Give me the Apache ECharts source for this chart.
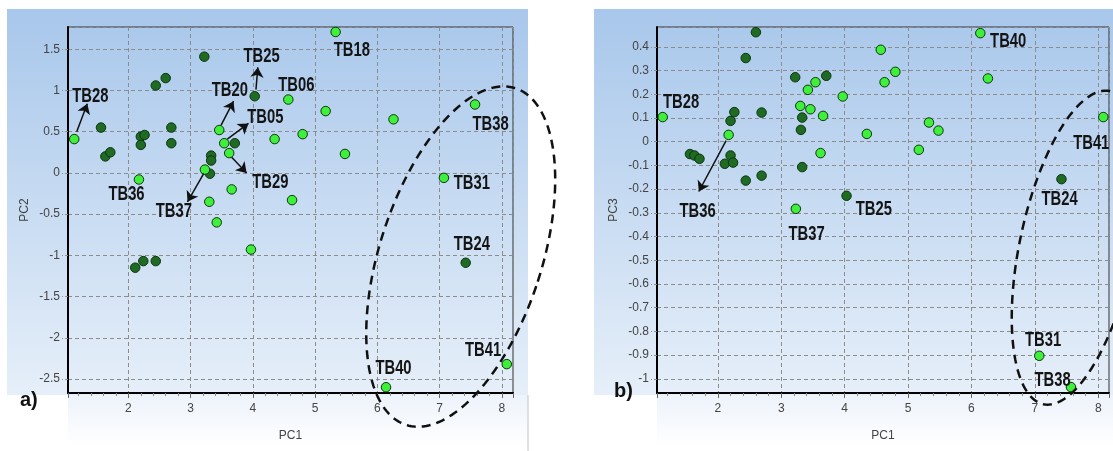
<!DOCTYPE html>
<html><head><meta charset="utf-8">
<script src="https://cdn.jsdelivr.net/npm/echarts@6/dist/echarts.min.js"></script>
<style>html,body{margin:0;padding:0;background:#fff}#c{width:1113px;height:451px}</style>
</head><body><div id="c"></div>
<script>
// ---- data ----
const samples = ['TB28','s02','s03','s04','s05','TB36','s07','s08','s09','s10','s11','s12','s13','s14','s15','s16','TB37','s18','s19','s20','s21','s22','TB20','TB05','TB29','s26','s27','s28','TB25','s30','TB06','s32','s33','s34','TB18','s36','TB40','s38','TB31','TB24','TB38','TB41'];
const pc1 = [1.13,1.56,1.63,1.71,2.11,2.17,2.20,2.20,2.24,2.26,2.44,2.44,2.60,2.69,2.69,3.22,3.23,3.30,3.31,3.33,3.33,3.42,3.46,3.54,3.62,3.66,3.71,3.97,4.03,4.35,4.57,4.63,4.80,5.17,5.33,5.48,6.14,6.26,7.07,7.42,7.57,8.08];
const pc2 = [0.41,0.55,0.20,0.25,-1.15,-0.08,0.44,0.34,-1.07,0.46,1.06,-1.07,1.15,0.55,0.36,1.41,0.04,-0.35,-0.01,0.21,0.15,-0.60,0.52,0.36,0.24,-0.20,0.36,-0.93,0.93,0.41,0.89,-0.33,0.47,0.75,1.71,0.23,-2.60,0.65,-0.06,-1.09,0.83,-2.32];
const pc3 = [0.104,-0.052,-0.058,-0.072,-0.093,0.029,0.088,-0.058,-0.088,0.125,0.353,-0.164,0.462,0.123,-0.143,0.272,-0.283,0.151,0.050,0.102,-0.107,0.219,0.137,0.251,-0.048,0.109,0.278,0.191,-0.228,0.033,0.388,0.251,0.295,-0.034,0.081,0.047,0.458,0.267,-0.903,-0.158,-1.035,0.104];
// 1 = dark green group, 0 = light green group
const group = [0,1,1,1,1,0,1,1,1,1,1,1,1,1,1,1,0,0,1,1,1,0,0,0,0,0,1,0,1,0,0,0,0,0,0,0,0,0,0,1,0,0];

// annotation anchors (data units): [name, x, y]
const labelsA = [['TB28',1.39,0.93],['TB25',4.14,1.41],['TB20',3.63,1.00],['TB05',4.20,0.67],['TB29',4.28,-0.12],['TB37',2.73,-0.47],['TB36',1.97,-0.26],['TB06',4.70,1.06],['TB18',5.59,1.48],['TB38',7.82,0.59],['TB31',7.52,-0.13],['TB24',7.52,-0.87],['TB41',7.70,-2.16],['TB40',6.26,-2.37]];
const arrowsA = [[1.17,0.50,1.34,0.84],[4.05,1.01,4.08,1.28],[3.49,0.58,3.69,0.87],[3.59,0.41,3.93,0.60],[3.66,0.19,3.90,0.0],[3.21,-0.01,2.95,-0.35]];
const labelsB = [['TB28',1.42,0.165],['TB36',1.68,-0.294],['TB37',3.40,-0.393],['TB25',4.46,-0.287],['TB40',6.58,0.423],['TB41',7.89,-0.006],['TB24',7.39,-0.245],['TB31',7.13,-0.838],['TB38',7.28,-1.007]];
const arrowsB = [[2.13,0.005,1.70,-0.21]];

// ---- styles ----
const DARK = '#1f6b24', LIGHT = '#3ef03a', EDGE = '#0c3510';
const AXFONT = "'Liberation Sans',Arial,sans-serif";

function pts(yArr, g){
  const out = [];
  for (let i = 0; i < pc1.length; i++) if (group[i] === g) out.push([pc1[i], yArr[i], samples[i]]);
  return out;
}
function mkX(gi, min, max){
  return {gridIndex: gi, type:'value', min:min, max:max, splitNumber:7,
    name:'PC1', nameLocation:'middle', nameGap:37,
    nameTextStyle:{color:'#444', fontSize:12, fontFamily:AXFONT},
    axisLine:{show:true, onZero:false, lineStyle:{color:'#000', width:2}},
    axisTick:{show:true, length:5, lineStyle:{color:'#666'}},
    minorTick:{show:true, splitNumber:5, length:3, lineStyle:{color:'#888'}},
    axisLabel:{showMinLabel:false, showMaxLabel:false, color:'#444', fontSize:12, margin:10, fontFamily:AXFONT},
    splitLine:{show:true, lineStyle:{type:[4,3], color:'#8c8c8c', width:1}}};
}
function mkY(gi, min, max, split, name){
  return {gridIndex: gi, type:'value', min:min, max:max, splitNumber:split,
    name:name, nameLocation:'middle', nameGap:37, nameRotate:90,
    nameTextStyle:{color:'#444', fontSize:12, fontFamily:AXFONT},
    axisLine:{show:true, onZero:false, lineStyle:{color:'#000', width:2}},
    axisTick:{show:true, length:6, lineStyle:{color:'#8c8c8c', type:[3,2]}},
    axisLabel:{showMinLabel:false, showMaxLabel:false, color:'#444', fontSize:12, margin:8, fontFamily:AXFONT},
    splitLine:{show:true, lineStyle:{type:[4,3], color:'#8c8c8c', width:1}}};
}
function scat(gi, yArr, g){
  return {type:'scatter', xAxisIndex:gi, yAxisIndex:gi, symbol:'circle', symbolSize:9.5,
    data: pts(yArr, g), z:3,
    itemStyle:{color: g ? DARK : LIGHT, borderColor: EDGE, borderWidth:1, opacity:1}};
}
function arrowSeries(gi, arrows){
  return {type:'scatter', xAxisIndex:gi, yAxisIndex:gi, symbolSize:0, z:5, data:[],
    markLine:{silent:true, symbol:['none','arrow'], symbolSize:10, animation:false, precision:4,
      label:{show:false}, emphasis:{disabled:true},
      lineStyle:{type:'solid', color:'#111', width:1.5, opacity:1},
      data: arrows.map(a => [{coord:[a[0],a[1]]},{coord:[a[2],a[3]]}])}};
}
const chart = echarts.init(document.getElementById('c'), null, {renderer:'canvas'});
const grad = (a,b) => new echarts.graphic.LinearGradient(0,0,0,1,[{offset:0,color:a},{offset:1,color:b}]);
const bg = [
  {id:'p1', type:'rect', z:-20, shape:{x:7, y:9, width:521, height:386}, style:{fill:grad('#a8c7eb','#e6eff9')}},
  {id:'s1', type:'rect', z:-20, shape:{x:68, y:395, width:460, height:52}, style:{fill:grad('#edf3fb','#ffffff')}},
  {id:'p2', type:'rect', z:-20, shape:{x:594, y:9, width:530, height:386}, style:{fill:grad('#a8c7eb','#e6eff9')}},
  {id:'s2', type:'rect', z:-20, shape:{x:657, y:395, width:470, height:52}, style:{fill:grad('#edf3fb','#ffffff')}},
  {id:'sep', type:'line', z:-10, shape:{x1:528, y1:395, x2:528, y2:451}, style:{stroke:'#c4c4c4', lineWidth:1}},
  {id:'ta', type:'text', z:10, x:20, y:390, style:{text:'a)', font:"bold 20px 'Liberation Sans',Arial,sans-serif", fill:'#111'}},
  {id:'tb', type:'text', z:10, x:614, y:381, style:{text:'b)', font:"bold 20px 'Liberation Sans',Arial,sans-serif", fill:'#111'}}
];
chart.setOption({
  animation:false,
  backgroundColor:'#ffffff',
  grid:[
    {left:68, top:27, width:445, height:366, show:true, borderColor:'#333', borderWidth:1, backgroundColor:'transparent'},
    {left:657, top:27, width:452, height:366, show:true, borderColor:'#333', borderWidth:1, backgroundColor:'transparent'}
  ],
  xAxis:[mkX(0,1.03,8.18), mkX(1,1.04,8.17)],
  yAxis:[mkY(0,-2.67,1.77,9,'PC2'), mkY(1,-1.06,0.484,15,'PC3')],
  series:[scat(0,pc2,1), scat(0,pc2,0), arrowSeries(0,arrowsA),
          scat(1,pc3,1), scat(1,pc3,0), arrowSeries(1,arrowsB)],
  graphic:{elements:bg}
});

// sample-name annotations placed at data anchors
const texts = [];
[[0,labelsA],[1,labelsB]].forEach(([gi, arr]) => arr.forEach((l, k) => {
  const p = chart.convertToPixel({xAxisIndex:gi, yAxisIndex:gi}, [l[1], l[2]]);
  texts.push({id:'t'+gi+'_'+k, type:'text', z:15, x:p[0], y:p[1], scaleX:0.74,
    style:{text:l[0], font:"bold 20px 'Liberation Sans',Arial,sans-serif", fill:'#141414', align:'center', verticalAlign:'middle'}});
}));
// dashed ellipses: centre in data units, semi-axes in px, tilt in degrees
const ellipses = [
  {gi:0, cx:7.34, cy:-1.015, a:177, b:81, tilt:18},
  {gi:1, cx:7.66, cy:-0.447, a:160, b:57, tilt:12}
];
const extra = ellipses.map((e, k) => {
  const c = chart.convertToPixel({xAxisIndex:e.gi, yAxisIndex:e.gi}, [e.cx, e.cy]);
  const th = e.tilt*Math.PI/180;
  const u = [Math.sin(th), -Math.cos(th)], v = [Math.cos(th), Math.sin(th)];
  const p = [];
  for (let i = 0; i <= 180; i++) {
    const t = i/180*2*Math.PI;
    p.push([c[0] + u[0]*e.a*Math.sin(t) + v[0]*e.b*Math.cos(t), c[1] + u[1]*e.a*Math.sin(t) + v[1]*e.b*Math.cos(t)]);
  }
  return {id:'el'+k, type:'polyline', z:20, shape:{points:p}, style:{stroke:'#111', lineWidth:2.5, lineDash:[9,6], fill:null}};
});
chart.setOption({graphic:{elements: bg.concat(texts, extra)}});
</script>
</body></html>
